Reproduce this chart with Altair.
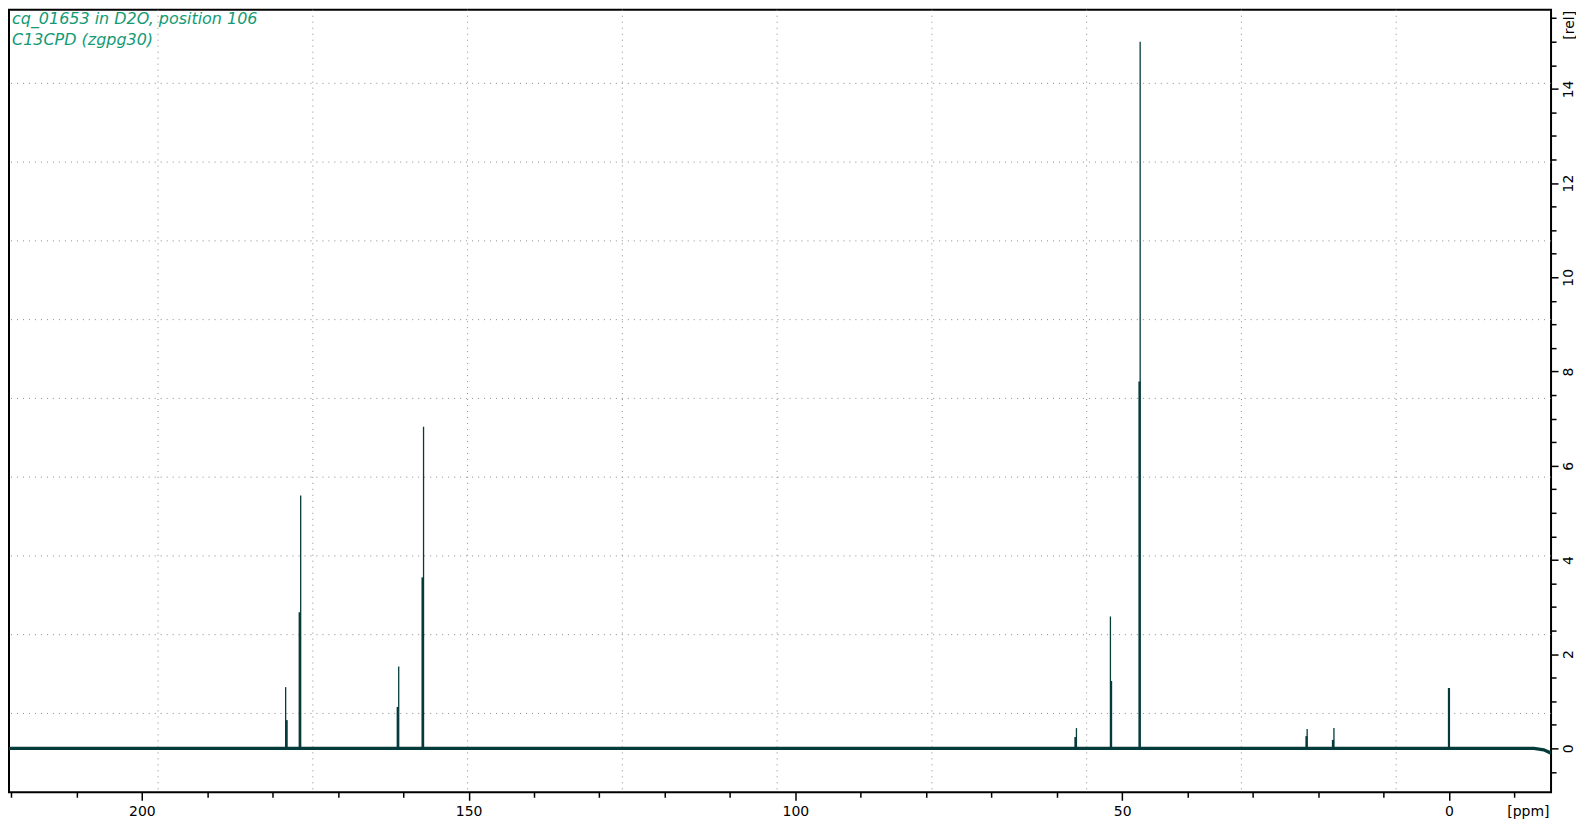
import altair as alt
import pandas as pd

# ---- data ----
peak_ppm = [178.0, 175.7, 160.7, 156.9, 57.0, 51.8, 47.25, 21.7, 17.6, 0.0]
peak_height = [1.30, 5.37, 1.74, 6.83, 0.43, 2.80, 15.0, 0.41, 0.43, 1.28]
shoulder_ppm = [177.85, 175.85, 160.85, 157.05, 57.15, 51.7, 47.35, 21.8, 17.75, 0.0]
shoulder_height = [0.60, 2.89, 0.88, 3.63, 0.24, 1.43, 7.79, 0.26, 0.18, 1.28]

baseline_ppm = [220.33, -13.0, -14.5, -15.62]
baseline_val = [0.0, 0.0, -0.03, -0.10]

# screen grid divisions (10 equal divisions of the reference frame)
grid_x_ppm = [197.52, 173.84, 150.16, 126.48, 102.8, 79.12, 55.44, 31.76, 8.08]
grid_y_val = [0.742, 2.414, 4.086, 5.758, 7.43, 9.102, 10.774, 12.446, 14.118]

x_ticks = list(range(-10, 221, 10))
y_ticks = [v / 2 for v in range(-1, 32)]

title_lines = ["cq_01653 in D2O, position 106", "C13CPD (zgpg30)"]

SPEC = "#063b3b"
GREEN = "#129a74"
FONT = "DejaVu Sans"

peaks = pd.DataFrame({"ppm": peak_ppm, "h": peak_height, "z": [0.0] * len(peak_ppm)})
shoulders = pd.DataFrame({"ppm": shoulder_ppm, "h": shoulder_height, "z": [0.0] * len(shoulder_ppm)})
base = pd.DataFrame({"ppm": baseline_ppm, "v": baseline_val})
gx = pd.DataFrame({"g": grid_x_ppm})
gy = pd.DataFrame({"g": grid_y_val})

xscale = alt.Scale(domain=[-15.62, 220.33], reverse=True, nice=False, zero=False)
yscale = alt.Scale(domain=[-0.932, 15.68], nice=False, zero=False)

xaxis = alt.Axis(
    values=x_ticks,
    labelExpr="datum.value % 50 === 0 ? '' + datum.value : ''",
    tickSize={"condition": {"test": "datum.value % 50 === 0", "value": 8}, "value": 5},
    tickColor="black",
    tickWidth=1.5,
    grid=False,
    domain=False,
    labelFont=FONT,
    labelFontSize=14,
    labelColor="black",
    labelPadding=4,
    labelFlush=False,
    labelOverlap=False,
    title="[ppm]",
    titleFont=FONT,
    titleFontSize=14,
    titleFontWeight="normal",
    titleColor="black",
    titleAlign="right",
    titleBaseline="top",
    titleX=1543,
    titleY=12,
)

yaxis = alt.Axis(
    orient="right",
    values=y_ticks,
    labelExpr="datum.value % 2 === 0 ? '' + datum.value : ''",
    tickSize={"condition": {"test": "datum.value % 2 === 0", "value": 7}, "value": 5},
    tickColor="black",
    tickWidth=1.5,
    grid=False,
    domain=False,
    labelFont=FONT,
    labelFontSize=14,
    labelColor="black",
    labelAngle=270,
    labelAlign="center",
    labelBaseline="top",
    labelPadding=3,
    labelFlush=False,
    labelOverlap=False,
    title="[rel]",
    titleFont=FONT,
    titleFontSize=14,
    titleFontWeight="normal",
    titleColor="black",
    titleAngle=270,
    titleAlign="center",
    titleBaseline="middle",
    titleX=18,
    titleY=15,
)


def X(field):
    return alt.X(field, type="quantitative", scale=xscale, axis=xaxis)


def Y(field):
    return alt.Y(field, type="quantitative", scale=yscale, axis=yaxis)


grid_v = alt.Chart(gx).mark_rule(color="#8a8a8a", strokeDash=[1, 5], strokeWidth=1).encode(x=X("g"))
grid_h = alt.Chart(gy).mark_rule(color="#8a8a8a", strokeDash=[1, 5], strokeWidth=1).encode(y=Y("g"))

baseline = alt.Chart(base).mark_line(color=SPEC, strokeWidth=3.4, clip=True).encode(
    x=X("ppm"), y=Y("v")
)

shoulder_rules = alt.Chart(shoulders).mark_rule(color=SPEC, strokeWidth=2.2).encode(
    x=X("ppm"), y=Y("z"), y2=alt.Y2("h")
)
peak_rules = alt.Chart(peaks).mark_rule(color=SPEC, strokeWidth=1.3).encode(
    x=X("ppm"), y=Y("z"), y2=alt.Y2("h")
)

t1 = alt.Chart(pd.DataFrame({"t": [title_lines[0]]})).mark_text(
    align="left", baseline="alphabetic", font=FONT, fontStyle="italic", fontSize=16, color=GREEN
).encode(x=alt.value(3), y=alt.value(14), text="t:N")
t2 = alt.Chart(pd.DataFrame({"t": [title_lines[1]]})).mark_text(
    align="left", baseline="alphabetic", font=FONT, fontStyle="italic", fontSize=16, color=GREEN
).encode(x=alt.value(3), y=alt.value(35), text="t:N")

chart = (
    alt.layer(grid_v, grid_h, baseline, shoulder_rules, peak_rules, t1, t2)
    .properties(width=1545, height=784, padding=0, background="white")
    .configure_view(stroke="black", strokeWidth=2)
)

chart.save("out.html", embed_options={"renderer": "svg", "actions": False})
